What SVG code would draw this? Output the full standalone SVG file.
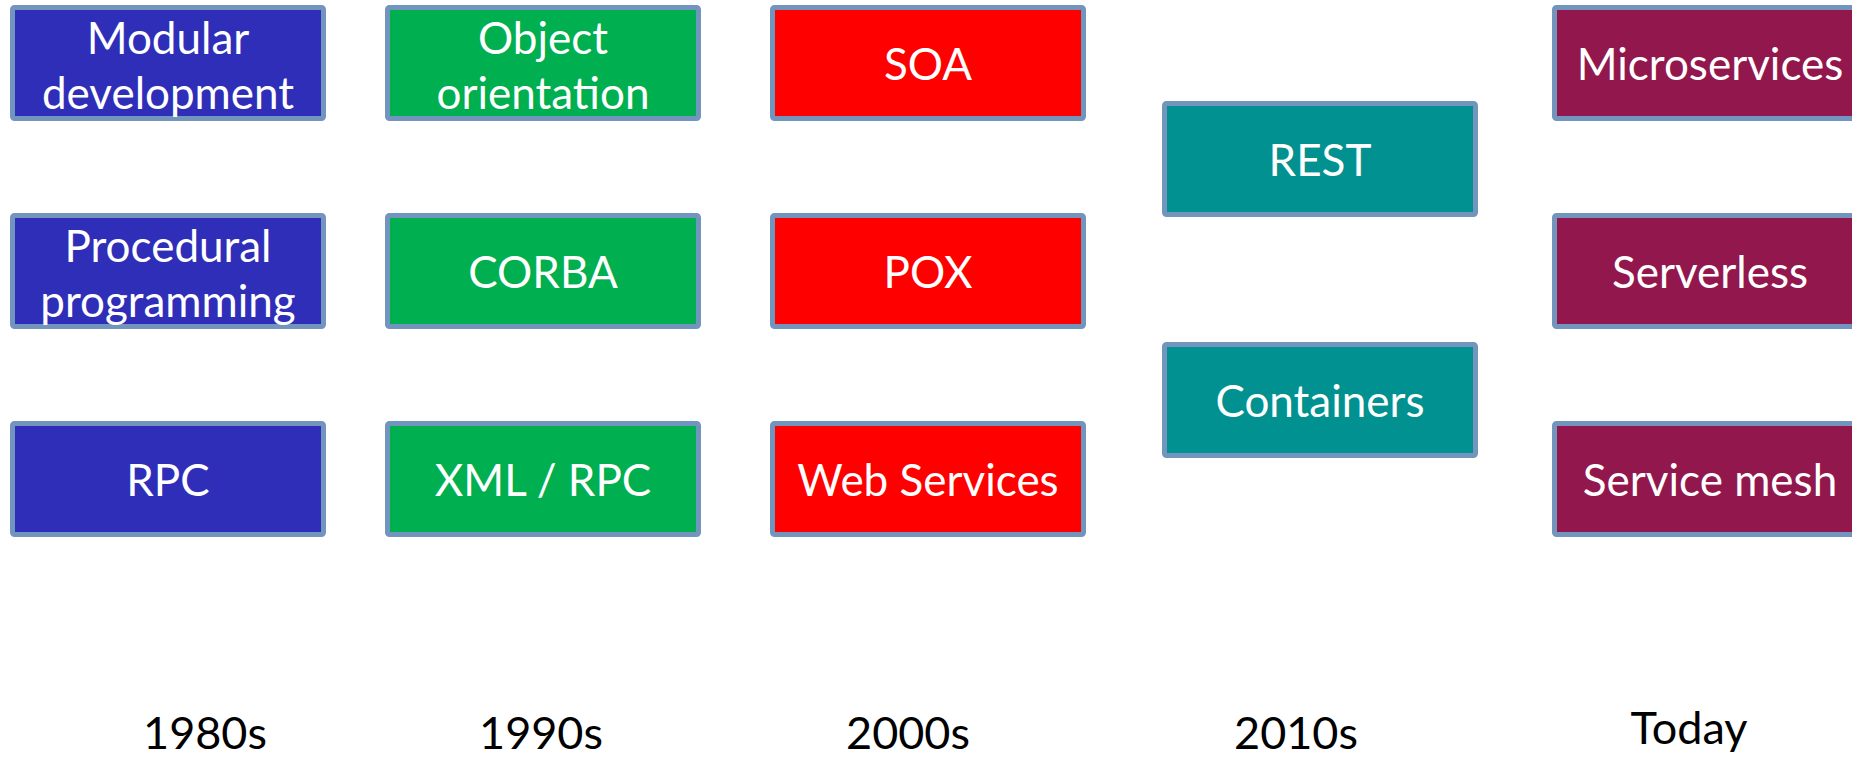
<svg xmlns="http://www.w3.org/2000/svg" width="1852" height="757" viewBox="0 0 1852 757">
<style>
.box{stroke:#7195BC;stroke-width:5}
.b{fill:#2F2EB8}.g{fill:#00AF50}.r{fill:#FF0000}.t{fill:#009190}.m{fill:#92174D}
.lbl{font-family:Lato,"Open Sans",sans-serif;font-size:44px;fill:#FFFFFF;text-anchor:middle}
.era{font-family:Lato,"Open Sans",sans-serif;font-size:45px;fill:#000000;text-anchor:middle}
</style>
<rect width="1852" height="757" fill="#FFFFFF"/>
<g id="modular"><rect class="box b" x="12.5" y="7.5" width="311" height="111" rx="2"/><text class="lbl" x="168" y="53.5">Modular</text><text class="lbl" x="168" y="108.5">development</text></g>
<g id="procedural"><rect class="box b" x="12.5" y="215.5" width="311" height="111" rx="2"/><text class="lbl" x="168" y="261.5">Procedural</text><text class="lbl" x="168" y="316.5">programming</text></g>
<g id="rpc"><rect class="box b" x="12.5" y="423.5" width="311" height="111" rx="2"/><text class="lbl" x="168" y="496">RPC</text></g>
<g id="oo"><rect class="box g" x="387.5" y="7.5" width="311" height="111" rx="2"/><text class="lbl" x="543" y="53.5">Object</text><text class="lbl" x="543" y="108.5">orientation</text></g>
<g id="corba"><rect class="box g" x="387.5" y="215.5" width="311" height="111" rx="2"/><text class="lbl" x="543" y="288">CORBA</text></g>
<g id="xmlrpc"><rect class="box g" x="387.5" y="423.5" width="311" height="111" rx="2"/><text class="lbl" x="543" y="496">XML / RPC</text></g>
<g id="soa"><rect class="box r" x="772.5" y="7.5" width="311" height="111" rx="2"/><text class="lbl" x="928" y="80">SOA</text></g>
<g id="pox"><rect class="box r" x="772.5" y="215.5" width="311" height="111" rx="2"/><text class="lbl" x="928" y="288">POX</text></g>
<g id="ws"><rect class="box r" x="772.5" y="423.5" width="311" height="111" rx="2"/><text class="lbl" x="928" y="496">Web Services</text></g>
<g id="rest"><rect class="box t" x="1164.5" y="103.5" width="311" height="111" rx="2"/><text class="lbl" x="1320" y="176">REST</text></g>
<g id="containers"><rect class="box t" x="1164.5" y="344.5" width="311" height="111" rx="2"/><text class="lbl" x="1320" y="417">Containers</text></g>
<g id="micro"><rect class="box m" x="1554.5" y="7.5" width="311" height="111" rx="2"/><text class="lbl" x="1710" y="80">Microservices</text></g>
<g id="serverless"><rect class="box m" x="1554.5" y="215.5" width="311" height="111" rx="2"/><text class="lbl" x="1710" y="288">Serverless</text></g>
<g id="mesh"><rect class="box m" x="1554.5" y="423.5" width="311" height="111" rx="2"/><text class="lbl" x="1710" y="496">Service mesh</text></g>
<g id="connectors"></g>
<g id="eras">
<text class="era" x="205" y="749">1980s</text>
<text class="era" x="541" y="749">1990s</text>
<text class="era" x="908" y="749">2000s</text>
<text class="era" x="1296" y="749">2010s</text>
<text class="era" x="1689" y="744">Today</text>
</g>
</svg>
